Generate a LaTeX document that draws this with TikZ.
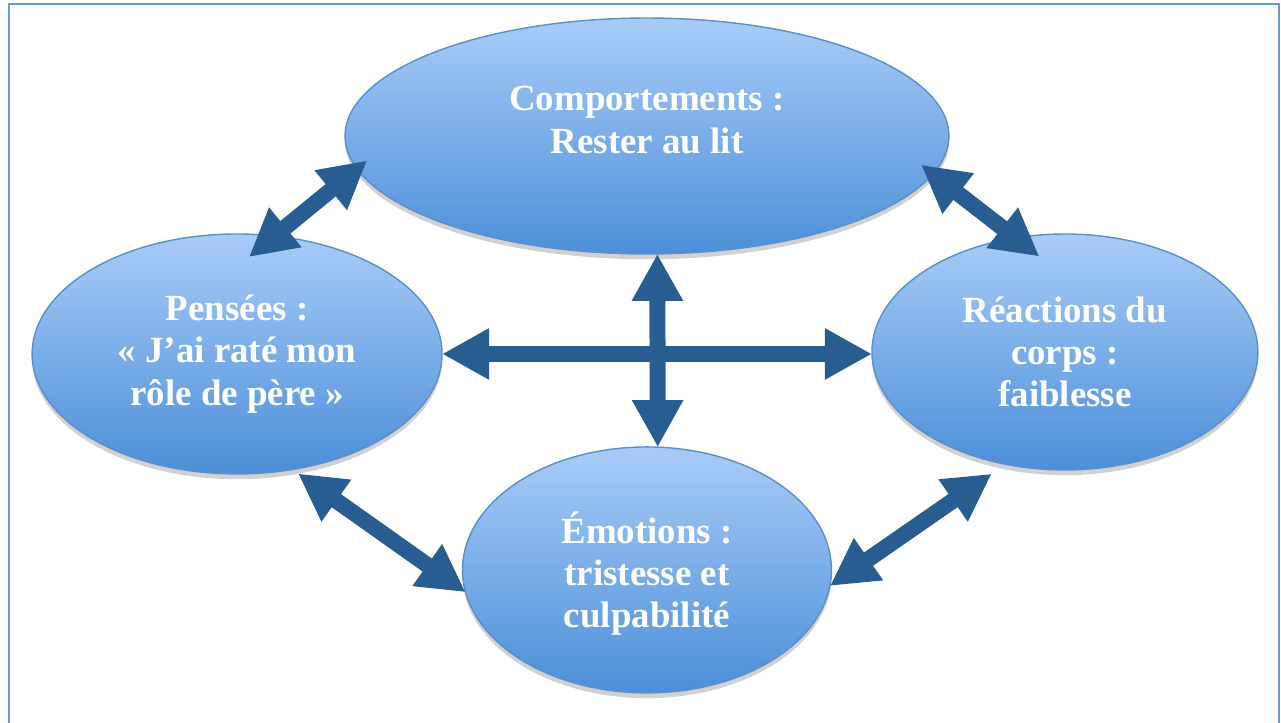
\documentclass[tikz,border=0pt]{standalone}
\usepackage{fontspec}
\setmainfont{Liberation Serif}
\usetikzlibrary{positioning,shapes.geometric,arrows.meta,calc,shadows}

\definecolor{bubbletop}{RGB}{168,204,248}
\definecolor{bubblebot}{RGB}{76,143,216}
\definecolor{bubbleline}{RGB}{92,142,202}
\definecolor{linkblue}{RGB}{39,93,144}
\definecolor{framecol}{RGB}{104,153,208}

\tikzset{
	bubble/.style={ellipse, draw=bubbleline, line width=0.8pt, inner sep=0pt, outer sep=0pt,
		top color=bubbletop, bottom color=bubblebot, on grid,
		drop shadow={shadow xshift=0pt, shadow yshift=-3pt, opacity=0.18, fill=black}},
	bubbletext/.style={text=white, align=center, font=\bfseries\fontsize{21pt}{24pt}\selectfont},
	link/.style={draw=linkblue, line width=0.32cm,
		{Triangle[width=0.96cm,length=0.94cm]}-{Triangle[width=0.96cm,length=0.94cm]}},
}

\begin{document}
\begin{tikzpicture}[x=0.02cm, y=-0.02cm]
	\useasboundingbox (0,0) rectangle (1281,723);
	\draw[framecol, line width=0.04cm] (9,4) rectangle (1279,727);

	% the four bubbles
	\node[bubble, minimum width=12.08cm, minimum height=4.72cm] (comp) at (647,136) {};
	\node[bubble, minimum width=8.2cm, minimum height=4.8cm, below left=4.36cm and 8.2cm of comp] (pens) {};
	\node[bubble, minimum width=7.72cm, minimum height=4.72cm, below right=4.32cm and 8.36cm of comp] (reac) {};
	\node[bubble, minimum width=7.38cm, minimum height=4.92cm, below=8.68cm of comp] (emo) {};

	\node[bubbletext] (comp-t) at ([yshift=0.32cm]comp.center) {Comportements :\\Rester au lit};
	\node[bubbletext] (pens-t) at (pens.center) {Pensées :\\« J’ai raté mon\\rôle de père »};
	\node[bubbletext] (reac-t) at (reac.center) {Réactions du\\corps :\\faiblesse};
	\node[bubbletext] (emo-t) at ([yshift=-0.08cm]emo.center) {Émotions :\\tristesse et\\culpabilité};

	% links
	\draw[link] ($(pens.center)!0.81!(pens.83)$) -- ($(comp.center)!0.95!(comp.185)$);
	\draw[link] ($(comp.center)!0.94!(comp.-6)$) -- ($(reac.center)!0.82!(reac.105)$);
	\draw[link] ($(pens.center)!1.04!(pens.-63)$) -- (emo.187);
	\draw[link] (emo.-5) -- ($(reac.center)!1.1!(reac.239)$);
	\draw[link] (pens.east) -- (pens.east -| reac.west);
	\draw[link] (comp.-85) -- (emo.85);
\end{tikzpicture}
\end{document}
